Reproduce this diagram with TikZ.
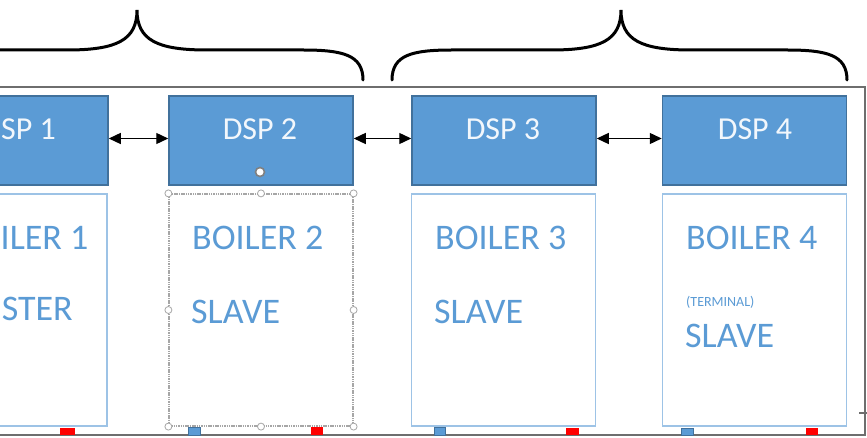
\documentclass[tikz,border=0pt]{standalone}
\usepackage{fontspec}
\setmainfont{Carlito}
\usetikzlibrary{arrows.meta}
\definecolor{dspfill}{HTML}{5B9BD5}
\definecolor{dspline}{HTML}{41719C}
\definecolor{boilline}{HTML}{9DC3E6}
\definecolor{boiltext}{HTML}{5B9BD5}
\definecolor{framegray}{HTML}{6E6E6E}
\definecolor{handlegray}{HTML}{A6A6A6}
\tikzset{
  dspbox/.style={draw=dspline, line width=1.5pt, fill=dspfill, minimum width=184pt, minimum height=89pt, inner sep=0pt},
  dsptext/.style={anchor=base, text=white!92!dspfill, font=\fontsize{32}{32}\selectfont, inner sep=0pt},
  boilbox/.style={draw=boilline, line width=1.2pt, fill=white, minimum width=184pt, minimum height=232pt, inner sep=0pt},
  boiltxt/.style={anchor=base west, text=boiltext, font=\fontsize{36}{36}\selectfont, inner sep=0pt},
  smalltxt/.style={anchor=base west, text=boiltext, font=\fontsize{14}{14}\selectfont, inner sep=0pt},
  dblarrow/.style={draw=black, line width=1.3pt, {Triangle[length=12pt,width=11pt]}-{Triangle[length=12pt,width=11pt]}},
  bracepath/.style={draw=black, line width=3pt, line cap=round},
  handle/.style={circle, draw=handlegray, fill=white, line width=0.8pt, minimum size=7pt, inner sep=0pt},
  bluesq/.style={draw=dspline, fill=dspfill, line width=0.8pt},
  redsq/.style={fill=red},
}
\begin{document}
\begin{tikzpicture}[x=1pt,y=-1pt]
\useasboundingbox (0,0) rectangle (867,438);
\clip (0,0) rectangle (867,438);
\fill[white] (0,0) rectangle (867,438);

% braces
\draw[bracepath] (-89,80) .. controls (-89,55) and (-69,50) .. (-29,50) -- (67,50)
  .. controls (117,50) and (137,40) .. (137,10)
  .. controls (137,40) and (157,50) .. (207,50) -- (303,50)
  .. controls (343,50) and (363,55) .. (363,80);
\draw[bracepath] (392,80) .. controls (392,55) and (412,50) .. (452,50) -- (551,50)
  .. controls (601,50) and (621,40) .. (621,10)
  .. controls (621,40) and (641,50) .. (691,50) -- (787,50)
  .. controls (827,50) and (847,55) .. (847,80);

% outer frame
\draw[framegray, line width=2pt] (-10,87) -- (865,87) -- (865,435) -- (-10,435);
\draw[framegray, line width=1.2pt] (859,413) -- (867,413);

% DSP boxes
\node[dspbox] (d1) at (16,140.5) {};
\node[dspbox] (d2) at (261,140.5) {};
\node[dspbox] (d3) at (504,140.5) {};
\node[dspbox] (d4) at (754.5,140.5) {};
\node[dsptext, anchor=base west] (t1) at (1,140) {SP 1};
\node[dsptext] (t2) at (260,140) {DSP 2};
\node[dsptext] (t3) at (503,140) {DSP 3};
\node[dsptext] (t4) at (755,140) {DSP 4};

% arrows
\draw[dblarrow] ([yshift=2pt]d1.east) -- ([yshift=2pt]d2.west);
\draw[dblarrow] ([yshift=2pt]d2.east) -- ([yshift=2pt]d3.west);
\draw[dblarrow] ([yshift=2pt]d3.east) -- ([yshift=2pt]d4.west);

% boiler boxes
\node[boilbox] (b1) at (15,310) {};
\node[boilbox, draw=handlegray, dash pattern=on 1.5pt off 0.8pt] (b2) at (261,310) {};
\node[boilbox] (b3) at (503.5,310) {};
\node[boilbox] (b4) at (754.5,310) {};

\node[boiltxt] (b1a) at (0.5,250) {ILER 1};
\node[boiltxt, anchor=base east] (b1b) at (73,320) {STER};
\node[boiltxt] (b2a) at (192,250) {BOILER 2};
\node[boiltxt] (b2b) at (191,323) {SLAVE};
\node[boiltxt] (b3a) at (435,250) {BOILER 3};
\node[boiltxt] (b3b) at (434,323) {SLAVE};
\node[boiltxt] (b4a) at (686,250) {BOILER 4};
\node[smalltxt] (b4t) at (686,306) {(TERMINAL)};
\node[boiltxt] (b4b) at (685,347) {SLAVE};

% selection handles on boiler 2
\foreach \a in {north west,north,north east,east,south east,south,south west,west}
  \node[handle] at (b2.\a) {};
\node[handle, draw=gray, minimum size=9pt, line width=1.6pt] (rot) at (260,172) {};

% small squares at the bottom
\fill[redsq] (60,428) rectangle (75,435);
\draw[bluesq] (188,427) rectangle (200,435);
\fill[redsq] (311,427) rectangle (323,435);
\draw[bluesq] (434,427) rectangle (445,435);
\fill[redsq] (566,428) rectangle (579,435);
\draw[bluesq] (681,428) rectangle (693,435);
\fill[redsq] (806,428) rectangle (818,435);
\end{tikzpicture}
\end{document}
